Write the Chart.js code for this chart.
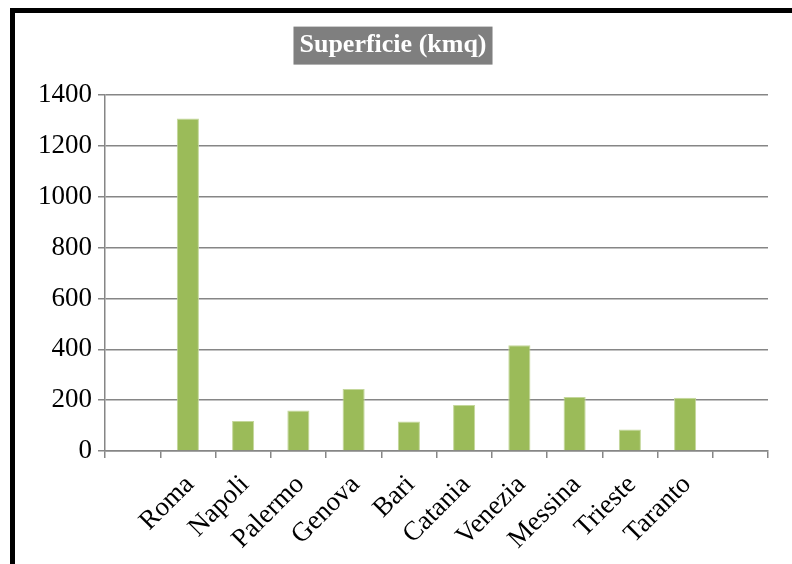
<!DOCTYPE html>
<html>
<head>
<meta charset="utf-8">
<script src="https://cdn.jsdelivr.net/npm/chart.js@4"></script>
<style>
  html, body { margin: 0; padding: 0; background: #fff; overflow: hidden; }
  #wrap { position: relative; width: 792px; height: 564px; }
  #frame { position: absolute; left: 10px; top: 8px; width: 900px; height: 700px; border: 5px solid #000; }
  #superficieChart { position: absolute; left: 0; top: 0; }
</style>
</head>
<body>
<div id="wrap">
  <div id="frame"></div>
  <canvas id="superficieChart" width="792" height="564"></canvas>
</div>
<script>
// first and last categories are empty in the original sheet
const cities = ['', 'Roma', 'Napoli', 'Palermo', 'Genova', 'Bari', 'Catania', 'Venezia', 'Messina', 'Trieste', 'Taranto', '']
const superficie = [null, 1308, 118, 159, 244, 116, 181, 416, 212, 85, 210, null]
const yTicks = [0, 200, 400, 600, 800, 1000, 1200, 1400]

const serif = "'Liberation Serif', 'Times New Roman', serif"
const titleSize = 26

// grey box behind the title
const titleBox = {
    id: 'titleBox',
    beforeDraw(chart) {
        const tb = chart.titleBlock
        if (!tb) return
        const ctx = chart.ctx
        ctx.save()
        ctx.font = 'bold ' + titleSize + 'px ' + serif
        const w = ctx.measureText(chart.options.plugins.title.text).width
        const cx = (tb.left + tb.right) / 2
        const cy = tb.top + tb.options.padding.top + titleSize * 0.6
        ctx.fillStyle = '#7f7f7f'
        ctx.fillRect(cx - w / 2 - 6, cy - 19, w + 12, 38)
        ctx.restore()
    }
}

const ctx = document.getElementById('superficieChart').getContext('2d')
new Chart(ctx, {
    type: 'bar',
    data: {
        labels: cities,
        datasets: [{
            label: 'Superficie (kmq)',
            data: superficie,
            backgroundColor: '#9bbb59',
            borderColor: '#c4d79b',
            borderWidth: 1,
            barPercentage: 0.4,
            categoryPercentage: 1
        }]
    },
    options: {
        responsive: false,
        animation: false,
        layout: { padding: { left: 18, right: 24, top: 0, bottom: 0 } },
        plugins: {
            legend: { display: false },
            tooltip: { enabled: false },
            title: {
                display: true,
                text: 'Superficie (kmq)',
                color: '#ffffff',
                font: { family: serif, size: titleSize, weight: 'bold' },
                padding: { top: 30, bottom: 34 }
            }
        },
        scales: {
            x: {
                grid: { drawOnChartArea: false, drawTicks: true, tickLength: 7, color: '#868686', lineWidth: 1.5 },
                border: { color: '#868686', width: 1.5 },
                ticks: {
                    color: '#000',
                    font: { family: serif, size: 27 },
                    maxRotation: 45,
                    minRotation: 45,
                    autoSkip: false,
                    padding: 11,
                    labelOffset: 2
                },
                afterFit(scale) { scale.height = 113 }
            },
            y: {
                min: 0,
                max: 1400,
                afterBuildTicks(scale) { scale.ticks = yTicks.map(v => ({ value: v })) },
                grid: { color: '#868686', lineWidth: 1.5, tickLength: 7 },
                border: { color: '#868686', width: 1.5 },
                ticks: {
                    color: '#000',
                    font: { family: serif, size: 27 },
                    padding: 6,
                    callback: v => String(v)
                },
                afterFit(scale) { scale.width = 87 }
            }
        }
    },
    plugins: [titleBox]
})
</script>
</body>
</html>
